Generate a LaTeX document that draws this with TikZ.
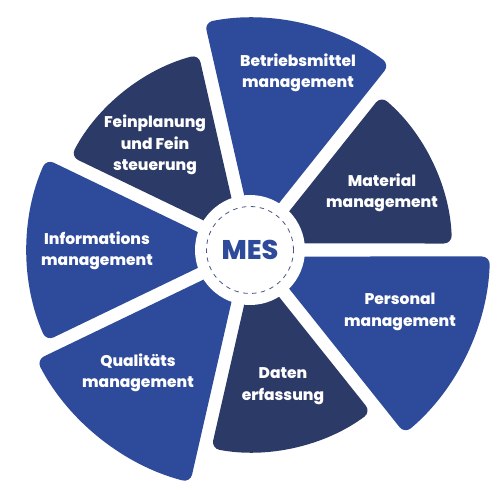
\documentclass[tikz,border=0pt]{standalone}
\usepackage{fontspec}
\setmainfont{Poppins}[BoldFont={Poppins ExtraBold}]
\usepackage{tikz}
\definecolor{mesblue}{HTML}{2D4A9B}
\definecolor{mesnavy}{HTML}{2C3A68}
\definecolor{dashgray}{HTML}{4A5685}

\tikzset{
  sectortext/.style={text=white, font=\fontsize{15.5}{21.5}\selectfont\bfseries, align=center},
}
% start angle, end angle, outer radius, colour
\newcommand{\messector}[4]{%
  \fill[#4, rounded corners=8] ({(#1+#2)/2}:15) -- ({#1+asin(6.5/#3)}:#3)
    arc[start angle={#1+asin(6.5/#3)}, end angle={#2-asin(6.5/#3)}, radius=#3pt] -- cycle;
}

\begin{document}
\begin{tikzpicture}[x=1pt, y=1pt]
    \useasboundingbox (-250,-250) rectangle (250,250);

    % sectors
    \messector{-51.43}{0}{240}{mesblue}
    \messector{0}{51.43}{202}{mesnavy}
    \messector{51.43}{102.86}{232}{mesblue}
    \messector{102.86}{154.29}{202}{mesnavy}
    \messector{154.29}{205.71}{223}{mesblue}
    \messector{205.71}{257.14}{240}{mesblue}
    \messector{257.14}{308.57}{202}{mesnavy}

    % hub
    \fill[white] (0,0) circle[radius=55pt];
    \draw[dashgray, line width=0.8pt, dash pattern=on 4.5pt off 4.5pt] (0,0) circle[radius=43.5pt];
    \node[text=mesblue, font=\fontsize{27}{32}\selectfont\bfseries] (mes) at (0,0) {MES};

    % labels
    \node[sectortext] (betrieb) at (48,177) {Betriebsmittel\\management};
    \node[sectortext] (material) at (132,57) {Material\\management};
    \node[sectortext] (personal) at (150,-62) {Personal\\management};
    \node[sectortext] (daten) at (33,-136) {Daten\\erfassung};
    \node[sectortext] (qualitaet) at (-112,-123) {Qualitäts\\management};
    \node[sectortext] (info) at (-153,-1) {Informations\\management};
    \node[sectortext] (feinplan) at (-95,105) {Feinplanung\\und Fein\\steuerung};
\end{tikzpicture}
\end{document}
